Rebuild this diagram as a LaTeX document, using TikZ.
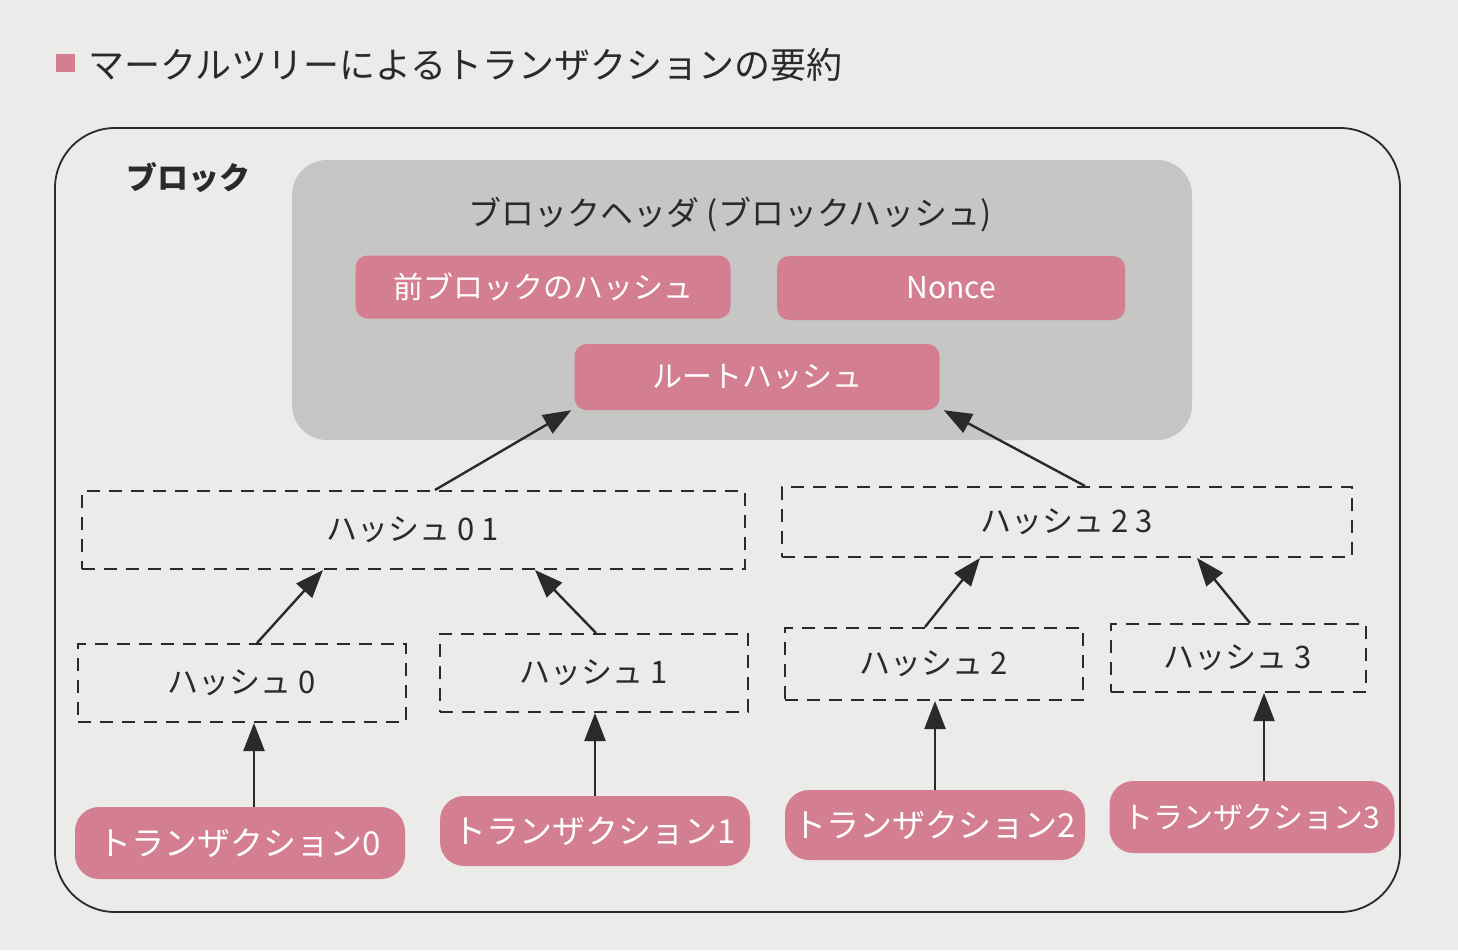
\documentclass[tikz,border=0pt]{standalone}
\usepackage{fontspec}
\setmainfont{Noto Sans CJK JP}
\usepackage{xcolor}
\usepackage{tikz}
\usetikzlibrary{positioning, calc, arrows.meta}

\definecolor{pagebg}{HTML}{EBEBE9}
\definecolor{hdrgray}{HTML}{C6C6C4}
\definecolor{mpink}{HTML}{D47E92}
\definecolor{inkdark}{HTML}{2A2A2A}

\begin{document}
\begin{tikzpicture}[x=1pt,y=-1pt,
        pinkbox/.style={fill=mpink, text=white, rounded corners=12pt, inner sep=0pt,
                        font=\fontsize{30}{36}\selectfont},
        txbox/.style={pinkbox, rounded corners=24pt, font=\fontsize{33}{38}\selectfont},
        hashbox/.style={draw=inkdark, line width=2pt, dash pattern=on 13pt off 9pt,
                        inner sep=0pt, text=inkdark, font=\fontsize{31}{36}\selectfont},
        arr/.style={draw=inkdark, line width=2.4pt, -{Triangle[length=28pt,width=21pt]}}]

        % Page
        \fill[pagebg] (0,0) rectangle (1458,950);
        \useasboundingbox (0,0) rectangle (1458,950);

        % Title
        \node[fill=mpink, minimum width=19pt, minimum height=18pt, inner sep=0pt] (tmark) at (65,63) {};
        \node[anchor=west, inner sep=0pt, text=inkdark, font=\fontsize{36}{42}\selectfont] (title) at (88,65)
            {マークルツリーによるトランザクションの要約};

        % Block frame
        \draw[inkdark, line width=1.8pt, rounded corners=60pt] (55,128) rectangle (1400,912);
        \node[text=inkdark, font=\fontsize{31}{36}\selectfont\bfseries] (blk) at (188,178) {ブロック};

        % Block header
        \fill[hdrgray, rounded corners=35pt] (292,160) rectangle (1192,440);
        \node[text=inkdark, font=\fontsize{33}{38}\selectfont] (hdr) at (730,215)
            {ブロックヘッダ (ブロックハッシュ)};
        \node[pinkbox, minimum width=375pt, minimum height=63pt] (prev) at (543,287) {前ブロックのハッシュ};
        \node[pinkbox, minimum width=348pt, minimum height=64pt] (nonce) at (951,288) {Nonce};
        \node[pinkbox, minimum width=365pt, minimum height=66pt] (root) at (757,377) {ルートハッシュ};

        % Hashes
        \node[hashbox, minimum width=663pt, minimum height=78pt] (h01) at (413,530) {ハッシュ 0 1};
        \node[hashbox, minimum width=570pt, minimum height=70pt] (h23) at (1067,522) {ハッシュ 2 3};
        \node[hashbox, minimum width=328pt, minimum height=78pt] (h0) at (242,683) {ハッシュ 0};
        \node[hashbox, minimum width=308pt, minimum height=78pt] (h1) at (594,673) {ハッシュ 1};
        \node[hashbox, minimum width=298pt, minimum height=72pt] (h2) at (934,664) {ハッシュ 2};
        \node[hashbox, minimum width=255pt, minimum height=68pt] (h3) at (1238,658) {ハッシュ 3};

        % Transactions
        \node[txbox, minimum width=330pt, minimum height=72pt] (t0) at (240,843) {トランザクション0};
        \node[txbox, minimum width=310pt, minimum height=70pt] (t1) at (595,831) {トランザクション1};
        \node[txbox, minimum width=300pt, minimum height=70pt] (t2) at (935,825) {トランザクション2};
        \node[txbox, minimum width=285pt, minimum height=72pt, font=\fontsize{30}{36}\selectfont] (t3) at (1252,817) {トランザクション3};

        % Arrows
        \draw[arr] ([xshift=14pt]t0.north) -- ([xshift=14pt]t0.north |- h0.south);
        \draw[arr] (t1.north) -- (t1.north |- h1.south);
        \draw[arr] (t2.north) -- (t2.north |- h2.south);
        \draw[arr] ([xshift=12pt]t3.north) -- ([xshift=12pt]t3.north |- h3.south);

        \draw[arr] ([xshift=15pt]h0.north) -- ([xshift=-90pt]h01.south);
        \draw[arr] ([xshift=2pt]h1.north) -- ([xshift=122pt]h01.south);
        \draw[arr] ([xshift=-9pt]h2.north) -- ([xshift=-87pt]h23.south);
        \draw[arr] ([xshift=12pt]h3.north) -- ([xshift=130pt]h23.south);

        \draw[arr] ([xshift=22pt]h01.north) -- ([xshift=-3pt]root.south west);
        \draw[arr] ([xshift=18pt]h23.north) -- ([xshift=4pt]root.south east);

\end{tikzpicture}
\end{document}
